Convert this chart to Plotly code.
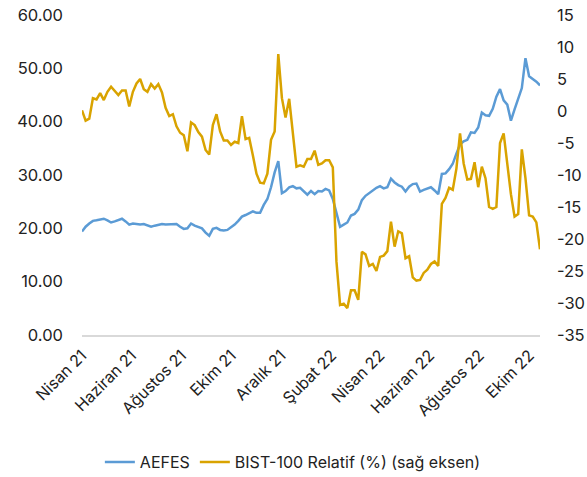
import pandas as pd
import plotly.graph_objects as go

dates = pd.date_range("2021-04-01", "2022-10-14", periods=127)

aefes = [
    19.4, 20.3, 20.9, 21.4, 21.5, 21.6, 21.8, 21.5, 21.1, 21.3,
    21.5, 21.8, 21.3, 20.7, 20.9, 20.8, 20.7, 20.8, 20.5, 20.3,
    20.5, 20.7, 20.8, 20.7, 20.7, 20.8, 20.8, 20.3, 19.9, 20.0,
    20.9, 20.5, 20.3, 20.0, 19.2, 18.6, 19.9, 20.1, 19.7, 19.6,
    19.7, 20.2, 20.7, 21.4, 22.2, 22.5, 22.9, 23.2, 22.9, 22.9,
    24.4, 25.5, 27.7, 30.5, 32.6, 26.6, 27.0, 27.7, 27.9, 27.5,
    27.6, 27.0, 26.3, 27.0, 26.4, 27.0, 26.9, 27.4, 27.1, 25.5,
    22.8, 20.3, 20.7, 21.1, 22.4, 22.7, 23.5, 25.3, 26.1, 26.6,
    27.2, 27.6, 27.9, 27.5, 27.7, 29.3, 28.6, 28.1, 27.8, 26.9,
    27.8, 28.3, 28.4, 26.9, 27.2, 27.4, 27.7, 27.1, 26.4, 30.2,
    30.3, 31.1, 32.1, 34.0, 35.7, 36.3, 36.6, 38.0, 37.9, 38.9,
    41.7, 41.2, 41.1, 42.4, 44.7, 46.1, 44.0, 43.2, 40.2, 42.3,
    44.1, 46.3, 51.9, 48.5, 48.0, 47.5, 46.8,
]

bist_rel = [
    0.1, -1.5, -1.2, 2.0, 1.8, 2.8, 1.7, 3.0, 3.8, 3.2,
    2.5, 3.2, 3.2, 0.7, 3.0, 4.3, 5.0, 3.4, 3.0, 4.2,
    3.5, 4.2, 2.9, 0.5, -0.8, -0.5, -2.4, -3.4, -3.8, -6.3,
    -1.8, -2.2, -3.3, -4.0, -6.1, -6.8, -2.2, -0.5, -3.2, -4.6,
    -4.6, -5.3, -4.8, -5.0, -0.8, -4.4, -4.2, -6.9, -9.8, -11.2,
    -11.3, -9.8, -4.5, -3.2, 8.9, 2.0, -1.0, 1.9, -3.7, -8.7,
    -8.5, -8.7, -7.5, -7.5, -6.2, -8.4, -8.2, -7.7, -7.7, -8.8,
    -23.5, -30.3, -30.1, -30.8, -28.0, -28.0, -29.5, -22.0, -22.4, -24.2,
    -23.9, -25.0, -22.8, -22.6, -21.9, -17.3, -21.2, -18.8, -19.1, -23.0,
    -22.7, -26.0, -26.5, -26.4, -25.3, -24.8, -23.9, -23.5, -24.2, -14.5,
    -13.6, -12.0, -12.3, -9.0, -3.5, -8.2, -10.7, -10.6, -8.0, -11.9,
    -8.7, -10.5, -15.0, -15.3, -15.0, -5.0, -3.5, -8.1, -13.0, -16.5,
    -16.1, -6.0, -10.5, -16.3, -16.5, -17.4, -21.6,
]

x_tick_dates = ["2021-04-01", "2021-06-01", "2021-08-01", "2021-10-01", "2021-12-01",
                "2022-02-01", "2022-04-01", "2022-06-01", "2022-08-01", "2022-10-01"]
x_tick_labels = ["Nisan 21", "Haziran 21", "Ağustos 21", "Ekim 21", "Aralık 21",
                 "Şubat 22", "Nisan 22", "Haziran 22", "Ağustos 22", "Ekim 22"]
left_ticks = [0, 10, 20, 30, 40, 50, 60]
right_ticks = [-35, -30, -25, -20, -15, -10, -5, 0, 5, 10, 15]

FONT = "Inter"
BLUE = "#5B9BD5"
GOLD = "#D9A300"

fig = go.Figure()
fig.add_trace(go.Scatter(x=dates, y=aefes, name="AEFES", mode="lines",
                         line=dict(color=BLUE, width=2.5)))
fig.add_trace(go.Scatter(x=dates, y=bist_rel, name="BIST-100 Relatif (%) (sağ eksen)",
                         mode="lines", line=dict(color=GOLD, width=2.5), yaxis="y2"))

fig.update_layout(
    width=587, height=477,
    margin=dict(l=82, r=47, t=15, b=142, autoexpand=False),
    paper_bgcolor="white", plot_bgcolor="white",
    font=dict(family=FONT, color="#222222", size=16),
    xaxis=dict(
        type="date",
        range=["2021-04-01", "2022-10-14"],
        tickmode="array", tickvals=x_tick_dates, ticktext=x_tick_labels,
        tickangle=-45, tickfont=dict(size=16),
        showgrid=False, zeroline=False,
        showline=True, linecolor="#D9D9D9", linewidth=1.5,
        ticks="", automargin=False, ticklabelstandoff=3,
    ),
    yaxis=dict(
        range=[0, 60], tickmode="array", tickvals=left_ticks,
        ticktext=[f"{v:.2f}" for v in left_ticks],
        showgrid=False, zeroline=False, ticks="", automargin=False,
        ticklabelstandoff=18, tickfont=dict(size=16.5),
    ),
    yaxis2=dict(
        range=[-35, 15], overlaying="y", side="right",
        tickmode="array", tickvals=right_ticks,
        ticktext=[str(v) for v in right_ticks],
        showgrid=False, zeroline=False, ticks="", automargin=False,
        ticklabelstandoff=16, tickfont=dict(size=16.5),
    ),
    legend=dict(orientation="h", x=0.039, xanchor="left", y=-0.397, yanchor="middle",
                font=dict(size=16)),
    showlegend=True,
)

fig.write_html("out.html")
